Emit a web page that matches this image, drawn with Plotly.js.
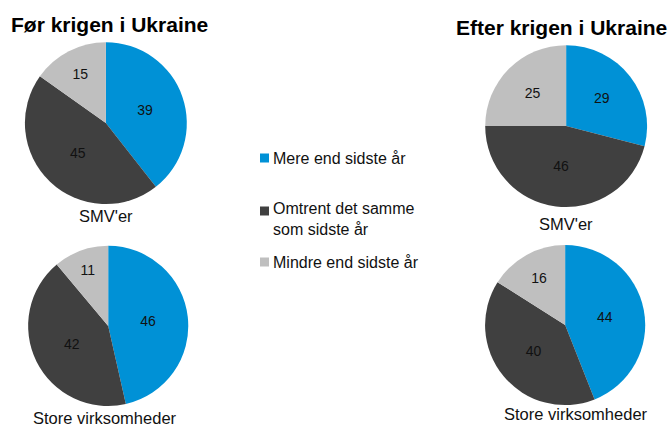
<!DOCTYPE html>
<html>
<head>
<meta charset="utf-8">
<script src="https://cdn.plot.ly/plotly-3.0.1.min.js"></script>
<style>html,body{margin:0;padding:0;background:#fff;}#chart{width:670px;height:426px;}</style>
</head>
<body>
<div id="chart"></div>
<script>
const categories = ["Mere end sidste år", "Omtrent det samme som sidste år", "Mindre end sidste år"];
const legendLabels = ["Mere end sidste år", "Omtrent det samme<br>som sidste år", "Mindre end sidste år"];
const panelTitles = ["Før krigen i Ukraine", "Efter krigen i Ukraine"];
const groupLabels = ["SMV'er", "Store virksomheder"];
const beforeSMV = [39, 45, 15];
const beforeLarge = [46, 42, 11];
const afterSMV = [29, 46, 25];
const afterLarge = [44, 40, 16];

const colors = ["#0091D6", "#404040", "#BFBFBF"];
const font = "Liberation Sans, Arial, sans-serif";

function pie(values, domain) {
  return {
    type: "pie",
    labels: categories,
    values: values,
    sort: false,
    direction: "clockwise",
    rotation: 0,
    textinfo: "value",
    textposition: "inside",
    insidetextorientation: "horizontal",
    textfont: {family: font, size: 14, color: "#111"},
    marker: {colors: colors, line: {width: 0}},
    domain: domain,
    showlegend: false,
    hoverinfo: "label+value"
  };
}

const data = [
  pie(beforeSMV, {x: [0.037, 0.279], y: [0.521, 0.901]}),
  pie(beforeLarge, {x: [0.042, 0.281], y: [0.047, 0.423]}),
  pie(afterSMV, {x: [0.724, 0.966], y: [0.514, 0.894]}),
  pie(afterLarge, {x: [0.724, 0.963], y: [0.049, 0.425]})
];

const annotations = [
  {text: "<b>" + panelTitles[0] + "</b>", x: 9, y: 25, xanchor: "left"},
  {text: "<b>" + panelTitles[1] + "</b>", x: 454, y: 27, xanchor: "left"},
].map(a => ({...a, xref: "paper", yref: "paper", x: a.x / 670, y: 1 - a.y / 426, yanchor: "middle", showarrow: false, font: {family: font, size: 21, color: "#000"}}));

const subLabels = [
  {text: groupLabels[0], x: 106, y: 216},
  {text: groupLabels[1], x: 105, y: 418},
  {text: groupLabels[0], x: 566, y: 224},
  {text: groupLabels[1], x: 576, y: 414}
];
subLabels.forEach(s => annotations.push({text: s.text, xref: "paper", yref: "paper", x: s.x / 670, y: 1 - s.y / 426, xanchor: "center", yanchor: "middle", showarrow: false, font: {family: font, size: 16.5, color: "#111"}}));

const legendY = [158, 219, 262];
const shapes = [];
legendLabels.forEach((t, i) => {
  annotations.push({text: t, xref: "paper", yref: "paper", x: 271 / 670, y: 1 - legendY[i] / 426, xanchor: "left", yanchor: "middle", align: "left", showarrow: false, font: {family: font, size: 16, color: "#111"}});
});
const sqY = [158, 211, 262];
sqY.forEach((y, i) => {
  shapes.push({type: "rect", xref: "paper", yref: "paper", x0: 260 / 670, x1: 269 / 670, y0: 1 - (y - 4.5) / 426, y1: 1 - (y + 4.5) / 426, fillcolor: colors[i], line: {width: 0}});
});

const layout = {
  width: 670, height: 426,
  margin: {l: 0, r: 0, t: 0, b: 0},
  paper_bgcolor: "#fff",
  showlegend: false,
  annotations: annotations,
  shapes: shapes,
  font: {family: font}
};

Plotly.newPlot("chart", data, layout, {displayModeBar: false, staticPlot: true});
</script>
</body>
</html>
